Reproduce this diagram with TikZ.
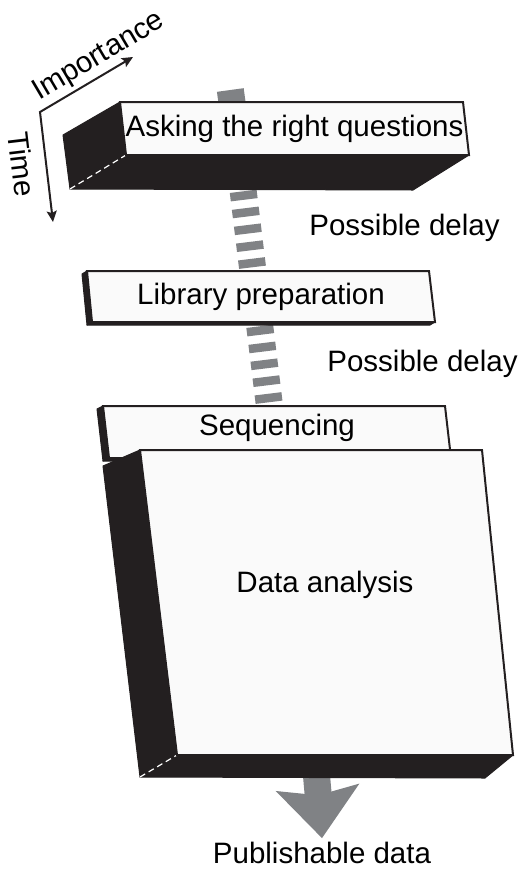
\documentclass[tikz,border=0pt]{standalone}
\usepackage{fontspec}
\setmainfont{Liberation Sans}
\usetikzlibrary{arrows.meta}
\definecolor{facedark}{HTML}{231F20}
\definecolor{facelight}{HTML}{FAFAFA}
\definecolor{delaygray}{HTML}{808285}
\tikzset{
  frontface/.style={fill=facelight, draw=facedark, line width=2pt},
  sideface/.style={fill=facedark, draw=facedark, line width=1pt, line join=round},
  hiddenedge/.style={draw=white, line width=1.2pt, dash pattern=on 6pt off 4pt},
  stagetext/.style={font=\fontsize{29.5}{35}\selectfont, inner sep=3.33pt},
  delayband/.style={draw=delaygray, line width=27pt},
  axisline/.style={draw=facedark, line width=2pt,
    {Stealth[length=11pt,width=10pt,inset=2pt]}-{Stealth[length=11pt,width=10pt,inset=2pt]}},
  outarrow/.style={draw=delaygray, line width=27pt,
    -{Stealth[length=51pt,width=84pt,inset=8pt,line width=0pt]}}
}
\begin{document}
\begin{tikzpicture}[x=1pt,y=-1pt]
  \useasboundingbox (0,0) rectangle (521,871);

  % band of the delays, behind the stages
  \coordinate (bandtop) at (230.3,90);
  \coordinate (bandask) at (234.4,120);
  \coordinate (bandmid) at (241.8,180);
  \coordinate (bandseq) at (270.6,415);
  \draw[delayband] (bandtop) -- (bandask);
  \draw[delayband, dash pattern=on 8.5pt off 8.5pt, dash phase=5.6pt] (bandmid) -- (bandseq);

  % output arrow
  \node[stagetext, anchor=base] (pub) at (322,863) {Publishable data};
  \coordinate (dataout) at (316,770);
  \draw[outarrow] (dataout) -- (pub.north);

  % asking the right questions
  \draw[sideface] (120,102) -- (63,135) -- (70,189) -- (126,155) -- cycle;
  \draw[sideface] (126,155) -- (469,155) -- (413,190) -- (70,189) -- cycle;
  \draw[hiddenedge] (70,189) -- (126,155);
  \draw[frontface] (120,102) -- (463,102) -- (469,155) -- (126,155) -- cycle;
  \node[stagetext] (ask) at (294.5,128.5) {Asking the right questions};

  % library preparation
  \draw[sideface] (87,271) -- (82,274) -- (87,325) -- (92,322) -- cycle;
  \draw[sideface] (92,322) -- (435,322) -- (430,325) -- (87,325) -- cycle;
  \draw[frontface] (87,271) -- (429,271) -- (435,322) -- (92,322) -- cycle;
  \node[stagetext] (lib) at (261,296.5) {Library preparation};

  % sequencing
  \draw[sideface] (103,406) -- (97,409) -- (103,461) -- (109,458) -- cycle;
  \draw[sideface] (109,458) -- (451,458) -- (445,461) -- (103,461) -- cycle;
  \draw[frontface] (103,406) -- (445,406) -- (451,458) -- (109,458) -- cycle;
  \node[stagetext] (seq) at (277,428) {Sequencing};

  % data analysis
  \draw[sideface] (140,450) -- (103,466) -- (140,777) -- (177,755) -- cycle;
  \draw[sideface] (177,755) -- (513,755) -- (485,778) -- (140,777) -- cycle;
  \draw[hiddenedge] (140,777) -- (177,755);
  \draw[frontface] (140,450) -- (482,450) -- (513,755) -- (177,755) -- cycle;
  \node[stagetext] (data) at (325,585) {Data analysis};

  % delays
  \node[stagetext] (delay1) at (404.5,228) {Possible delay};
  \node[stagetext] (delay2) at (422.5,364) {Possible delay};

  % axes
  \coordinate (axcorner) at (40,112);
  \coordinate (imptip) at (133,57);
  \coordinate (timetip) at (53,222);
  \draw[axisline] (imptip)
    -- node[stagetext, sloped, above, pos=0.27] (imp) {Importance} (axcorner)
    -- node[stagetext, sloped, below=9pt, pos=0.45] (time) {Time} (timetip);
\end{tikzpicture}
\end{document}
